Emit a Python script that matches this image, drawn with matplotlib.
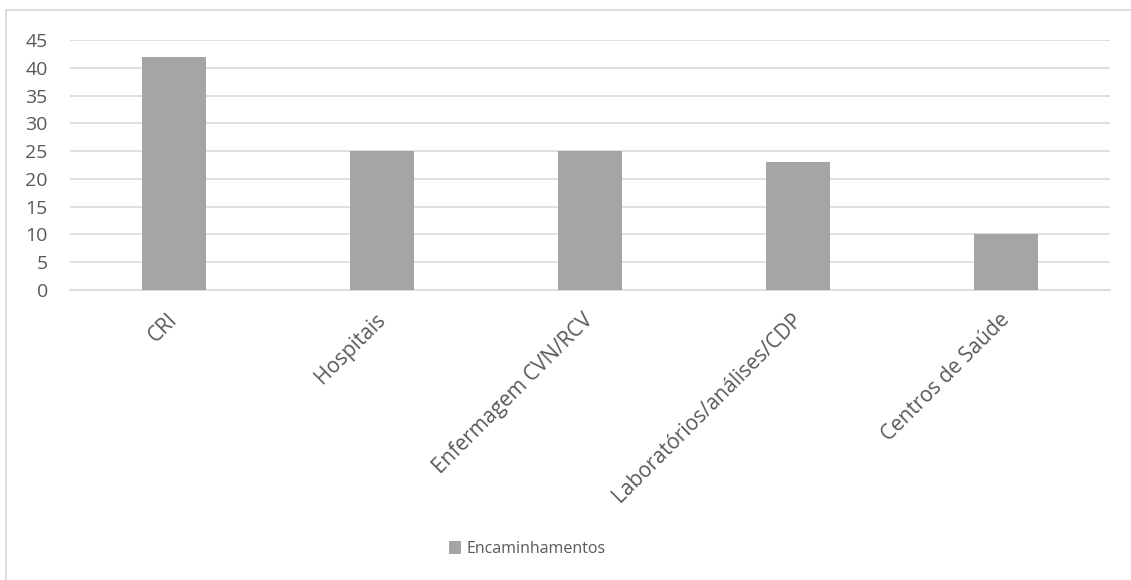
import matplotlib.pyplot as plt
import matplotlib.transforms as mtransforms
from matplotlib.patches import Rectangle

plt.rcParams["font.family"] = ["Open Sans", "DejaVu Sans"]

categories = [
    "CRI",
    "Hospitais",
    "Enfermagem CVN/RCV",
    "Laboratórios/análises/CDP",
    "Centros de Saúde",
]
encaminhamentos = [42, 25, 25, 23, 10]
yticks = [0, 5, 10, 15, 20, 25, 30, 35, 40, 45]

text_color = "#595959"
grid_color = "#D9D9D9"
bar_color = "#A5A5A5"


def main():
    fig = plt.figure(figsize=(11.31, 5.8), dpi=100)
    W, H = 1131, 580

    # outer chart frame (Excel style), right and bottom edges run off the image
    fig.patches.append(
        Rectangle((6 / W, -0.02), 1.05, 1 - 10 / H + 0.02,
                  transform=fig.transFigure, fill=False,
                  edgecolor=grid_color, linewidth=1.3)
    )

    ax = fig.add_axes([70 / W, 1 - 290 / H, (1110 - 70) / W, 250 / H])
    x = range(len(categories))
    ax.bar(x, encaminhamentos, width=0.31, color=bar_color,
           label="Encaminhamentos", zorder=3)

    ax.set_xlim(-0.5, len(categories) - 0.5)
    ax.set_ylim(0, 45)
    ax.set_yticks(yticks)
    ax.grid(axis="y", color=grid_color, linewidth=1.2, zorder=0)
    for side in ["top", "right", "left"]:
        ax.spines[side].set_visible(False)
    ax.spines["bottom"].set_color(grid_color)
    ax.spines["bottom"].set_linewidth(1.2)

    ax.tick_params(axis="y", length=0, pad=16, labelsize=14, labelcolor=text_color)
    ax.tick_params(axis="x", length=0, pad=14, labelsize=15, labelcolor=text_color)
    ax.set_xticks(list(x))
    ax.set_xticklabels(categories, rotation=45, ha="right", va="top",
                       rotation_mode="anchor")
    shift = mtransforms.ScaledTranslation(-7 / 100, 0, fig.dpi_scale_trans)
    for lbl in ax.get_xticklabels():
        lbl.set_transform(lbl.get_transform() + shift)

    fig.legend(loc="center", bbox_to_anchor=(527 / W, 1 - 549 / H),
               frameon=False, fontsize=11.5, labelcolor=text_color,
               handlelength=0.8, handleheight=0.8, handletextpad=0.3)

    fig.savefig("out.png", dpi=100, facecolor="white")


if __name__ == "__main__":
    main()
